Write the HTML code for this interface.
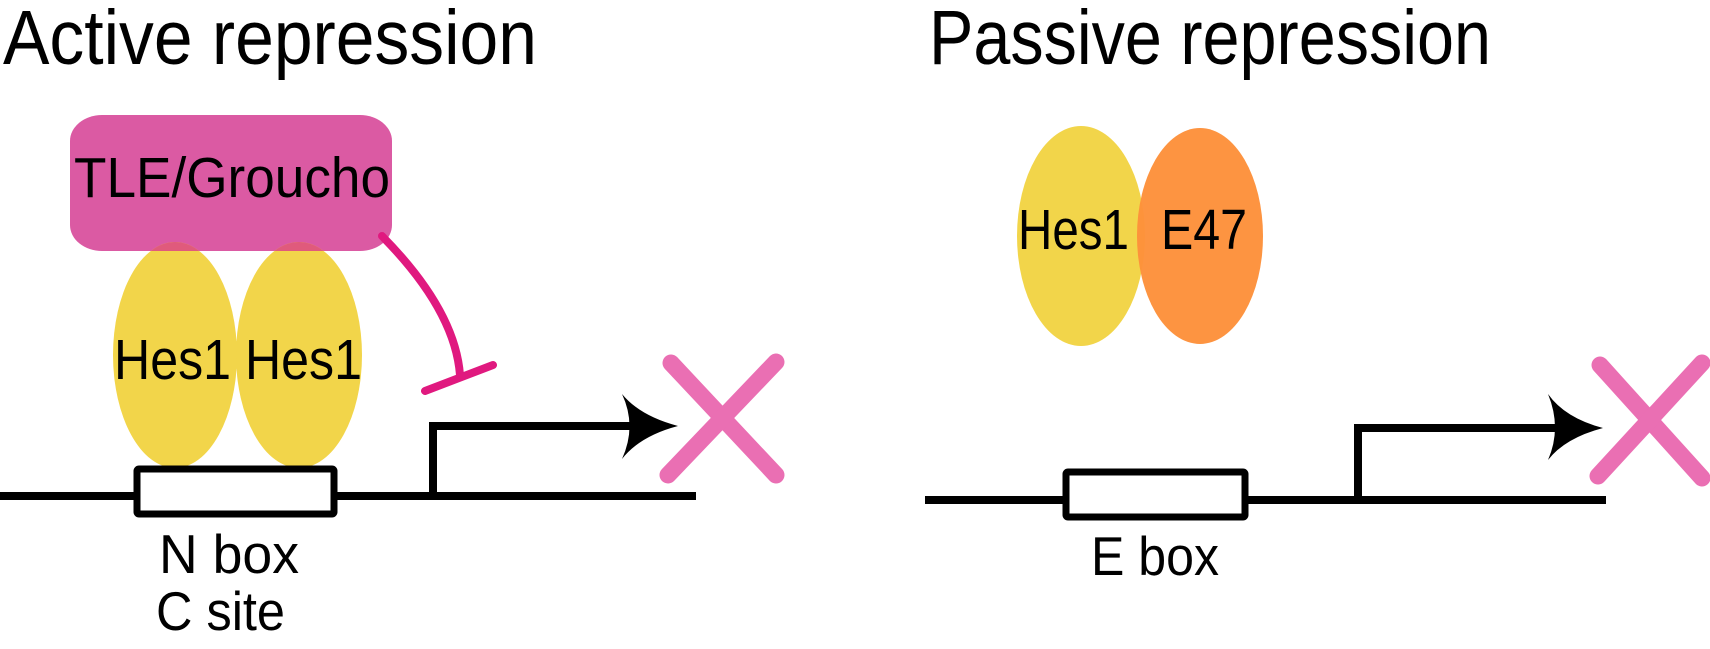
<!DOCTYPE html>
<html><head><meta charset="utf-8"><style>html,body{margin:0;padding:0;background:#fff;}svg{display:block}</style></head>
<body>
<svg width="1710" height="649" viewBox="0 0 1710 649" xmlns="http://www.w3.org/2000/svg" font-family="Liberation Sans, sans-serif">
<rect width="1710" height="649" fill="#fff"/>
<text x="3" y="64" font-size="77" textLength="534" lengthAdjust="spacingAndGlyphs">Active repression</text>
<text x="929" y="64" font-size="77" textLength="562" lengthAdjust="spacingAndGlyphs">Passive repression</text>

<clipPath id="c1"><rect x="70" y="115" width="322" height="136" rx="32" ry="26"/></clipPath>
<rect x="70" y="115" width="322" height="136" rx="32" ry="26" fill="#db5aa3"/>
<ellipse cx="175" cy="355" rx="62" ry="113" fill="#f2d54a"/>
<ellipse cx="299" cy="355" rx="63" ry="113" fill="#f2d54a"/>
<ellipse cx="175" cy="355" rx="62" ry="113" fill="#e05a7c" clip-path="url(#c1)"/>
<ellipse cx="299" cy="355" rx="63" ry="113" fill="#e05a7c" clip-path="url(#c1)"/>
<text x="74" y="197" font-size="57" textLength="316" lengthAdjust="spacingAndGlyphs">TLE/Groucho</text>
<text x="114" y="379" font-size="57" textLength="248" lengthAdjust="spacingAndGlyphs">Hes1 Hes1</text>
<path d="M382 236 Q455 310 460 375" fill="none" stroke="#e0197f" stroke-width="8" stroke-linecap="round"/>
<line x1="425" y1="391" x2="493" y2="365" stroke="#e0197f" stroke-width="8" stroke-linecap="round"/>
<line x1="0" y1="496" x2="696" y2="496" stroke="#000" stroke-width="8"/>
<rect x="137" y="469" width="197" height="45" rx="2" fill="#fff" stroke="#000" stroke-width="7"/>
<polyline points="433,496 433,426 640,426" fill="none" stroke="#000" stroke-width="8"/>
<path d="M678 426 Q640 436 622 459 Q637 426 622 394 Q640 416 678 426Z" fill="#000"/>
<g stroke="#ea6fb3" stroke-width="17" stroke-linecap="round">
<line x1="671" y1="363" x2="776" y2="475"/><line x1="776" y1="362" x2="668" y2="475"/></g>
<text x="159" y="573" font-size="55" textLength="140" lengthAdjust="spacingAndGlyphs">N box</text>
<text x="156" y="630" font-size="55" textLength="129" lengthAdjust="spacingAndGlyphs">C site</text>

<ellipse cx="1081" cy="236" rx="64" ry="110" fill="#f2d54a"/>
<ellipse cx="1200" cy="236" rx="63" ry="108" fill="#fd913b" fill-opacity="0.97"/>
<text x="1018" y="249" font-size="57" textLength="111" lengthAdjust="spacingAndGlyphs">Hes1</text>
<text x="1161" y="249" font-size="57" textLength="86" lengthAdjust="spacingAndGlyphs">E47</text>
<line x1="925" y1="500" x2="1606" y2="500" stroke="#000" stroke-width="8"/>
<rect x="1066" y="472" width="179" height="45" rx="2" fill="#fff" stroke="#000" stroke-width="7"/>
<polyline points="1358,500 1358,428 1566,428" fill="none" stroke="#000" stroke-width="8"/>
<path d="M1603 428 Q1565 438 1548 460 Q1562 428 1548 394 Q1565 418 1603 428Z" fill="#000"/>
<g stroke="#ea6fb3" stroke-width="17" stroke-linecap="round">
<line x1="1600" y1="365" x2="1702" y2="478"/><line x1="1702" y1="363" x2="1598" y2="476"/></g>
<text x="1091" y="575" font-size="55" textLength="128" lengthAdjust="spacingAndGlyphs">E box</text>
</svg>
</body></html>
